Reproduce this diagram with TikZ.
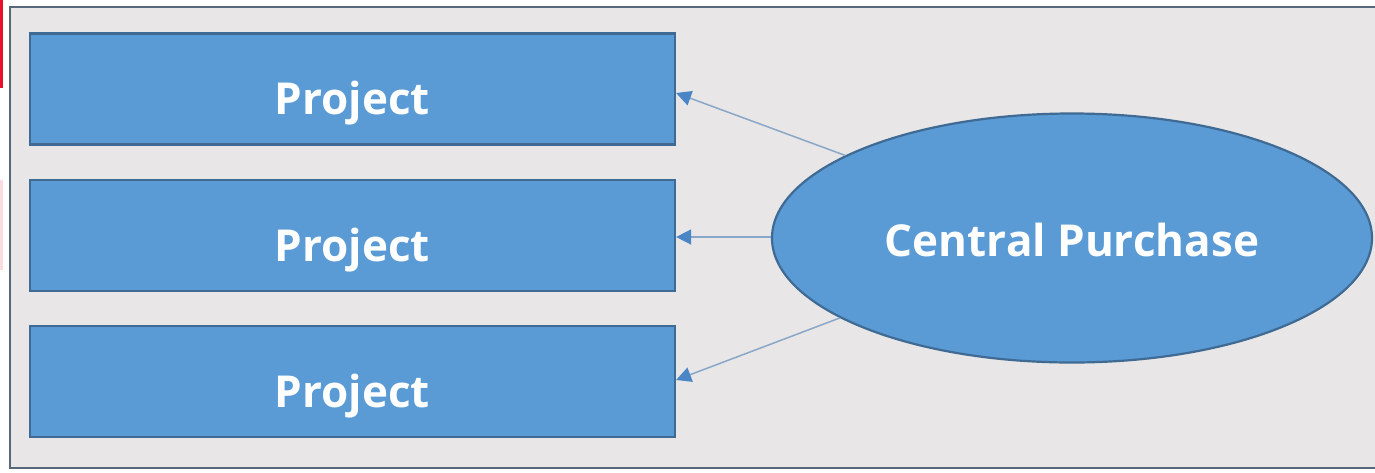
\documentclass[tikz,border=0pt]{standalone}
\usepackage{fontspec}
\setmainfont{Open Sans}
\usetikzlibrary{arrows.meta,shapes.geometric}
\definecolor{panel}{HTML}{E8E6E6}
\definecolor{frameline}{HTML}{56687A}
\definecolor{boxfill}{HTML}{5B9BD5}
\definecolor{boxline}{HTML}{3E6A93}
\definecolor{linkline}{HTML}{8AA6C8}
\definecolor{tipfill}{HTML}{4A86C5}
\definecolor{markred}{HTML}{E8102A}
\tikzset{
  bigtext/.style={text=white, font=\bfseries\fontsize{44}{48}\selectfont},
  projbox/.style={draw=boxline, line width=2.2pt, fill=boxfill, minimum width=645pt,
    minimum height=111pt, inner sep=0pt},
  projtext/.style={bigtext, inner sep=0pt},
  hub/.style={ellipse, draw=boxline, line width=2.2pt, fill=boxfill, minimum width=600pt,
    minimum height=249pt, inner sep=0pt, bigtext},
  link/.style={draw=linkline, line width=1.5pt,
    -{Triangle[length=15pt,width=15pt,fill=tipfill,color=tipfill]}}
}
\begin{document}
\begin{tikzpicture}[x=1pt,y=-1pt]
  \useasboundingbox (0,0) rectangle (1375,472);
  \fill[white] (0,0) rectangle (1375,472);
  % panel
  \draw[frameline, line width=2pt, fill=panel] (10,7) -- (1380,7) -- (1380,468) -- (10,468) -- cycle;
  % edge marks
  \fill[markred] (0,0) rectangle (2.5,88);
  \fill[markred!15] (0,180) rectangle (2.5,270);
  % projects
  \node[projbox] (p1) at (352.5,89) {};
  \node[projbox] (p2) at (352.5,235.5) {};
  \node[projbox] (p3) at (352.5,381.5) {};
  \node[projtext] (p1t) at ([yshift=-14.5pt]p1.center) {Project};
  \node[projtext] (p2t) at ([yshift=-14.5pt]p2.center) {Project};
  \node[projtext] (p3t) at ([yshift=-14.5pt]p3.center) {Project};
  % central purchase
  \node[hub] (cp) at (1072,238) {};
  \node[projtext] (cpt) at ([yshift=-2pt]cp.center) {Central Purchase};
  % links
  \draw[link] (cp.160.3) -- ([yshift=-4pt]p1.east);
  \draw[link] ([yshift=1pt]cp.west) -- ([yshift=-1.5pt]p2.east);
  \draw[link] (cp.199.3) -- ([yshift=1.5pt]p3.east);
\end{tikzpicture}
\end{document}
